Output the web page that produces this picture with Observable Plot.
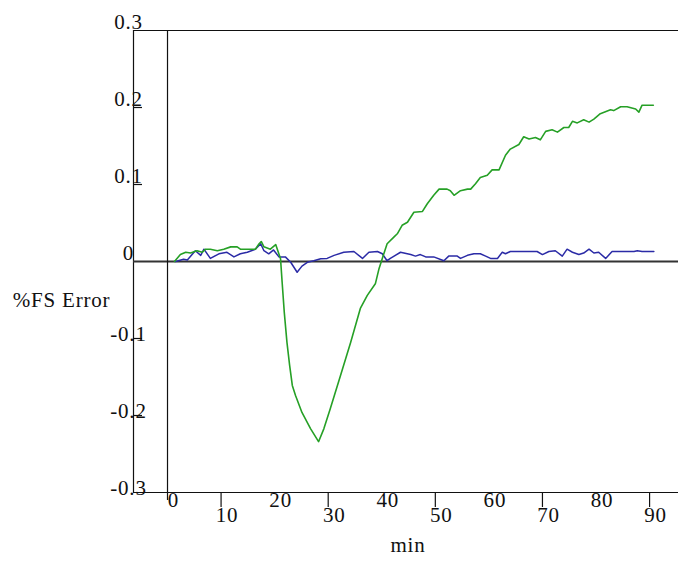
<!DOCTYPE html>
<html>
<head>
<meta charset="utf-8">
<script src="https://cdn.jsdelivr.net/npm/d3@7"></script>
<script src="https://cdn.jsdelivr.net/npm/@observablehq/plot@0.6"></script>
<style>
  html, body { margin: 0; padding: 0; background: #fff; }
  #chart svg { display: block; }
</style>
</head>
<body>
<div id="chart"></div>
<script>
// ---- data ----
const greenMin = [1.3, 2.4, 3.4, 4.3, 5.5, 6.5, 7.1, 8.0, 9.3, 10.5, 11.8, 13.0, 13.6, 14.9, 16.4, 17.1, 17.5, 18.0, 19.2, 20.2,
  21.1, 21.4, 21.8, 22.3, 22.8, 23.3, 23.9, 25.1, 26.7, 28.2, 29.2, 30.4, 32.3, 34.2, 36.0, 37.3, 38.8, 39.5, 40.1, 41.0,
  42.3, 42.9, 43.8, 44.8, 46.0, 47.6, 48.5, 49.7, 50.7, 52.2, 52.8, 53.5, 54.7, 56.0, 56.6, 57.5, 58.4, 59.7, 60.6, 61.9,
  63.1, 64.0, 65.6, 66.5, 67.5, 68.7, 69.6, 70.6, 71.8, 72.8, 74.0, 74.9, 75.6, 76.5, 77.7, 78.7, 79.6, 80.8, 82.7, 83.3,
  84.6, 85.8, 87.4, 88.0, 88.6, 90.7];
const greenErr = [0, 0.009, 0.012, 0.011, 0.014, 0.012, 0.016, 0.016, 0.014, 0.016, 0.019, 0.019, 0.016, 0.016, 0.016, 0.023, 0.026, 0.019, 0.016, 0.022,
  0.0035, -0.027, -0.066, -0.105, -0.135, -0.161, -0.174, -0.196, -0.217, -0.234, -0.217, -0.191, -0.148, -0.105, -0.061, -0.044, -0.029, -0.009, 0.004, 0.023,
  0.032, 0.036, 0.047, 0.051, 0.064, 0.065, 0.075, 0.086, 0.094, 0.094, 0.092, 0.086, 0.092, 0.094, 0.094, 0.101, 0.109, 0.112, 0.119, 0.119,
  0.138, 0.146, 0.152, 0.162, 0.159, 0.161, 0.158, 0.169, 0.171, 0.168, 0.174, 0.174, 0.182, 0.180, 0.184, 0.181, 0.185, 0.192, 0.197, 0.196,
  0.201, 0.201, 0.198, 0.194, 0.203, 0.203];

const blueMin = [1.5, 3.0, 3.7, 5.2, 6.2, 6.8, 8.0, 9.6, 11.1, 12.4, 13.6, 14.9, 16.4, 17.4, 18.0, 18.9, 19.8, 20.8, 22.0, 23.0,
  24.2, 25.1, 26.1, 27.3, 28.6, 29.8, 31.1, 32.9, 34.8, 36.4, 37.6, 39.2, 40.1, 41.0, 41.6, 43.5, 45.4, 46.3, 47.2, 48.2,
  49.7, 51.6, 52.5, 54.1, 54.7, 56.0, 57.2, 58.4, 59.4, 60.3, 61.6, 62.5, 63.1, 64.0, 69.0, 70.0, 71.2, 72.4, 73.7, 74.6,
  75.6, 76.8, 77.7, 78.7, 79.6, 80.5, 81.8, 83.0, 87.1, 87.7, 88.6, 90.8];
const blueErr = [0, 0.003, 0.002, 0.014, 0.008, 0.016, 0.004, 0.010, 0.012, 0.006, 0.010, 0.012, 0.016, 0.023, 0.014, 0.010, 0.015, 0.006, 0.006, -0.001,
  -0.014, -0.006, -0.001, 0.001, 0.0035, 0.004, 0.008, 0.012, 0.013, 0.004, 0.012, 0.013, 0.010, 0.001, 0.004, 0.012, 0.009, 0.007, 0.009, 0.006,
  0.006, 0.001, 0.007, 0.007, 0.004, 0.008, 0.010, 0.010, 0.007, 0.004, 0.004, 0.012, 0.010, 0.013, 0.013, 0.009, 0.013, 0.014, 0.007, 0.016,
  0.012, 0.009, 0.011, 0.016, 0.011, 0.012, 0.004, 0.013, 0.013, 0.014, 0.013, 0.013];

const xTicksUpper = [0, 20, 40, 60, 80];   // labels sitting just under the axis
const xTicksLower = [10, 30, 50, 70, 90];  // labels dropped a row lower
const xTickMarks = [10, 30, 50, 70, 90];
const yTicksPos = [0.3, 0.2, 0.1, 0];
const yTickLabelsPos = ["0.3", "0.2", "0.1", "0"];
const yTicksNeg = [-0.1, -0.2, -0.3];
const yTickLabelsNeg = ["-0.1", "-0.2", "-0.3"];
const yTickMarks = [0.2, 0.1, -0.1, -0.2];

const xDomain = [-6.35, 95.4];
const yDomain = [-0.3, 0.3];

const green = greenMin.map((m, i) => ({min: m, err: greenErr[i]}));
const blue = blueMin.map((m, i) => ({min: m, err: blueErr[i]}));

const font = {fontFamily: "'Liberation Serif', 'Times New Roman', serif", fontSize: 21, fill: "#111"};

const chart = Plot.plot({
  width: 678,
  height: 561,
  marginLeft: 133,
  marginRight: 0,
  marginTop: 30,
  marginBottom: 69,
  style: {background: "#fff", overflow: "visible", letterSpacing: "0.8px"},
  x: {domain: xDomain, axis: null},
  y: {domain: yDomain, axis: null},
  marks: [
    // frame-like axis lines
    Plot.ruleY([yDomain[1]], {stroke: "#111", strokeWidth: 1.2}),
    Plot.ruleY([yDomain[0]], {stroke: "#111", strokeWidth: 1.2}),
    Plot.ruleX([xDomain[0]], {stroke: "#111", strokeWidth: 1.2}),
    Plot.ruleY([0], {stroke: "#333", strokeWidth: 1.8}),
    Plot.ruleX([0], {y1: yDomain[1], y2: yDomain[0], insetBottom: -8, stroke: "#111", strokeWidth: 1.2}),
    // tick marks
    Plot.ruleX(xTickMarks, {x: d => d, y1: yDomain[0], y2: yDomain[0], insetBottom: -15, stroke: "#111", strokeWidth: 1.2}),
    Plot.ruleY(yTickMarks, {y: d => d, x1: xDomain[0], x2: xDomain[0], insetRight: -9, stroke: "#111", strokeWidth: 1.2}),
    // data
    Plot.line(blue, {x: "min", y: "err", stroke: "#2b2ba6", strokeWidth: 1.5}),
    Plot.line(green, {x: "min", y: "err", stroke: "#26a026", strokeWidth: 1.6}),
    // tick labels
    Plot.text(xTicksUpper, {x: d => d, y: yDomain[0], text: d => String(d), dx: 6, dy: 8, ...font}),
    Plot.text(xTicksLower, {x: d => d, y: yDomain[0], text: d => String(d), dx: 6, dy: 23, ...font}),
    Plot.text(yTicksPos, {x: xDomain[0], y: d => d, text: (d, i) => yTickLabelsPos[i], dx: -5, dy: -8, ...font}),
    Plot.text(yTicksNeg, {x: xDomain[0], y: d => d, text: (d, i) => yTickLabelsNeg[i], dx: -5, dy: -4, ...font}),
    // axis titles
    Plot.text(["%FS Error"], {frameAnchor: "left", textAnchor: "middle", dx: -72, dy: 39, ...font}),
    Plot.text(["min"], {frameAnchor: "bottom", dx: 2, dy: 59, ...font})
  ]
});
document.getElementById("chart").appendChild(chart);
</script>
</body>
</html>
